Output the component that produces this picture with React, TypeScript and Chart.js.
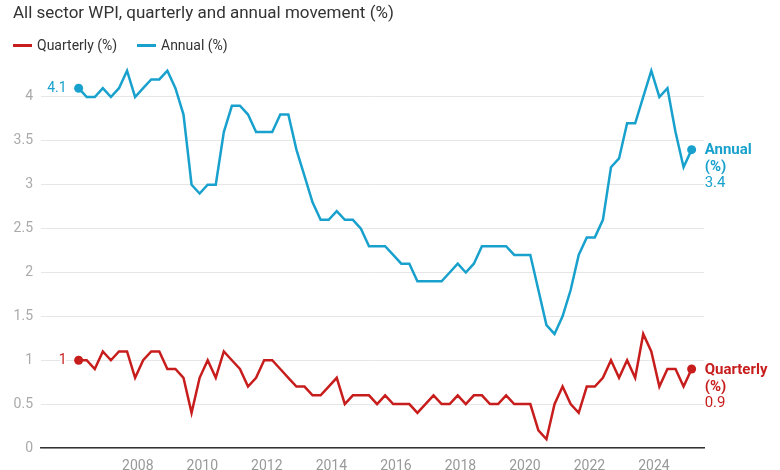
import React, { useEffect, useRef } from "react";
import { Chart, registerables } from "chart.js";

Chart.register(...registerables);

const periods = [
  "2006-03", "2006-06", "2006-09", "2006-12",
  "2007-03", "2007-06", "2007-09", "2007-12",
  "2008-03", "2008-06", "2008-09", "2008-12",
  "2009-03", "2009-06", "2009-09", "2009-12",
  "2010-03", "2010-06", "2010-09", "2010-12",
  "2011-03", "2011-06", "2011-09", "2011-12",
  "2012-03", "2012-06", "2012-09", "2012-12",
  "2013-03", "2013-06", "2013-09", "2013-12",
  "2014-03", "2014-06", "2014-09", "2014-12",
  "2015-03", "2015-06", "2015-09", "2015-12",
  "2016-03", "2016-06", "2016-09", "2016-12",
  "2017-03", "2017-06", "2017-09", "2017-12",
  "2018-03", "2018-06", "2018-09", "2018-12",
  "2019-03", "2019-06", "2019-09", "2019-12",
  "2020-03", "2020-06", "2020-09", "2020-12",
  "2021-03", "2021-06", "2021-09", "2021-12",
  "2022-03", "2022-06", "2022-09", "2022-12",
  "2023-03", "2023-06", "2023-09", "2023-12",
  "2024-03", "2024-06", "2024-09", "2024-12",
  "2025-03",
];

const quarterly = [
  1.0, 1.0, 0.9, 1.1,
  1.0, 1.1, 1.1, 0.8,
  1.0, 1.1, 1.1, 0.9,
  0.9, 0.8, 0.4, 0.8,
  1.0, 0.8, 1.1, 1.0,
  0.9, 0.7, 0.8, 1.0,
  1.0, 0.9, 0.8, 0.7,
  0.7, 0.6, 0.6, 0.7,
  0.8, 0.5, 0.6, 0.6,
  0.6, 0.5, 0.6, 0.5,
  0.5, 0.5, 0.4, 0.5,
  0.6, 0.5, 0.5, 0.6,
  0.5, 0.6, 0.6, 0.5,
  0.5, 0.6, 0.5, 0.5,
  0.5, 0.2, 0.1, 0.5,
  0.7, 0.5, 0.4, 0.7,
  0.7, 0.8, 1.0, 0.8,
  1.0, 0.8, 1.3, 1.1,
  0.7, 0.9, 0.9, 0.7,
  0.9,
];

const annual = [
  4.1, 4.0, 4.0, 4.1,
  4.0, 4.1, 4.3, 4.0,
  4.1, 4.2, 4.2, 4.3,
  4.1, 3.8, 3.0, 2.9,
  3.0, 3.0, 3.6, 3.9,
  3.9, 3.8, 3.6, 3.6,
  3.6, 3.8, 3.8, 3.4,
  3.1, 2.8, 2.6, 2.6,
  2.7, 2.6, 2.6, 2.5,
  2.3, 2.3, 2.3, 2.2,
  2.1, 2.1, 1.9, 1.9,
  1.9, 1.9, 2.0, 2.1,
  2.0, 2.1, 2.3, 2.3,
  2.3, 2.3, 2.2, 2.2,
  2.2, 1.8, 1.4, 1.3,
  1.5, 1.8, 2.2, 2.4,
  2.4, 2.6, 3.2, 3.3,
  3.7, 3.7, 4.0, 4.3,
  4.0, 4.1, 3.6, 3.2,
  3.4,
];

const xTickYears = [2008, 2010, 2012, 2014, 2016, 2018, 2020, 2022, 2024];
const yTickValues = [0, 0.5, 1, 1.5, 2, 2.5, 3, 3.5, 4];

const seriesNames = ["Quarterly", "Annual"];
const RED = "#c71e1d";
const BLUE = "#18a1cd";
const FONT = "Roboto";

const toX = (p: string) => {
  const [y, m] = p.split("-").map(Number);
  return y + (m - 1) / 12;
};

const endLabelsPlugin = {
  id: "endLabels",
  afterDatasetsDraw(chart: any) {
    const ctx = chart.ctx;
    chart.data.datasets.forEach((ds: any, di: number) => {
      const meta = chart.getDatasetMeta(di);
      const pts = meta.data;
      const first = pts[0];
      const last = pts[pts.length - 1];
      const color = ds.borderColor;
      const firstVal = ds.data[0].y;
      const lastVal = ds.data[ds.data.length - 1].y;
      ctx.save();
      ctx.textBaseline = "middle";
      ctx.font = `14px ${FONT}`;
      ctx.textAlign = "right";
      ctx.lineWidth = 4;
      ctx.strokeStyle = "#fff";
      ctx.lineJoin = "round";
      const sx = first.x - 12;
      const sy = first.y;
      ctx.strokeText(String(firstVal), sx, sy);
      ctx.fillStyle = color;
      ctx.fillText(String(firstVal), sx, sy);
      ctx.textAlign = "left";
      const ex = last.x + 13;
      const ey = last.y + 1;
      ctx.font = `bold 15px ${FONT}`;
      ctx.fillText(seriesNames[di], ex, ey);
      ctx.fillText("(%)", ex, ey + 17);
      ctx.font = `15px ${FONT}`;
      ctx.fillText(lastVal.toFixed(1), ex, ey + 33);
      ctx.restore();
    });
  },
};

export default function App() {
  const canvasRef = useRef<HTMLCanvasElement | null>(null);

  useEffect(() => {
    if (!canvasRef.current) return;
    const n = periods.length;
    const radius = (c: any) => (c.dataIndex === 0 || c.dataIndex === n - 1 ? 4.5 : 0);
    const chart = new Chart(canvasRef.current, {
      type: "line",
      data: {
        datasets: [
          {
            label: "Quarterly (%)",
            data: periods.map((p, i) => ({ x: toX(p), y: quarterly[i] })),
            borderColor: RED,
            backgroundColor: RED,
            pointBackgroundColor: RED,
            borderWidth: 2.5,
            pointRadius: radius,
            pointBorderWidth: 0,
            pointHoverRadius: 0,
            tension: 0,
          },
          {
            label: "Annual (%)",
            data: periods.map((p, i) => ({ x: toX(p), y: annual[i] })),
            borderColor: BLUE,
            backgroundColor: BLUE,
            pointBackgroundColor: BLUE,
            borderWidth: 2.5,
            pointRadius: radius,
            pointBorderWidth: 0,
            pointHoverRadius: 0,
            tension: 0,
          },
        ],
      },
      options: {
        animation: false,
        responsive: true,
        maintainAspectRatio: false,
        events: [],
        layout: { padding: { left: 0, right: 76, top: 57.5, bottom: 0 } },
        plugins: {
          legend: { display: false },
          title: { display: false },
          tooltip: { enabled: false },
        },
        scales: {
          x: {
            type: "linear",
            min: 2005.0,
            max: 2025.55,
            grid: { display: false, drawTicks: false },
            border: { display: true, color: "#333", width: 1.5 },
            afterBuildTicks: (s: any) => {
              s.ticks = xTickYears.map((v) => ({ value: v }));
            },
            afterFit: (s: any) => {
              s.height = 22;
            },
            ticks: {
              autoSkip: false,
              maxRotation: 0,
              padding: 10,
              color: "#999",
              font: { family: FONT, size: 14 },
              callback: (v: any) => String(v),
            },
          },
          y: {
            type: "linear",
            min: 0,
            max: 4.45,
            grid: { color: "#e6e6e6", lineWidth: 1, drawTicks: false },
            border: { display: false },
            afterBuildTicks: (s: any) => {
              s.ticks = yTickValues.map((v) => ({ value: v }));
            },
            afterFit: (s: any) => {
              s.width = 41;
            },
            ticks: {
              padding: 8,
              color: "#aaa",
              font: { family: FONT, size: 14 },
              callback: (v: any) => String(v),
            },
          },
        },
      },
      plugins: [endLabelsPlugin],
    });
    return () => chart.destroy();
  }, []);

  return (
    <div
      style={{
        position: "absolute",
        left: 0,
        top: 0,
        width: 780,
        height: 470,
        background: "#fff",
        fontFamily: FONT,
        overflow: "hidden",
      }}
    >
      <div style={{ position: "absolute", left: 0, top: 0, width: 780, height: 470 }}>
        <canvas ref={canvasRef} />
      </div>
      <div
        style={{
          position: "absolute",
          left: 13,
          top: 2,
          fontSize: 17,
          lineHeight: "20px",
          color: "#333",
          whiteSpace: "nowrap",
        }}
      >
        All sector WPI, quarterly and annual movement (%)
      </div>
      <div style={{ position: "absolute", left: 13, top: 44, width: 19, height: 3, background: RED }} />
      <div style={{ position: "absolute", left: 37, top: 36, fontSize: 14, lineHeight: "18px", color: "#333", whiteSpace: "nowrap" }}>
        Quarterly (%)
      </div>
      <div style={{ position: "absolute", left: 137, top: 44, width: 19, height: 3, background: BLUE }} />
      <div style={{ position: "absolute", left: 161, top: 36, fontSize: 14, lineHeight: "18px", color: "#333", whiteSpace: "nowrap" }}>
        Annual (%)
      </div>
    </div>
  );
}
